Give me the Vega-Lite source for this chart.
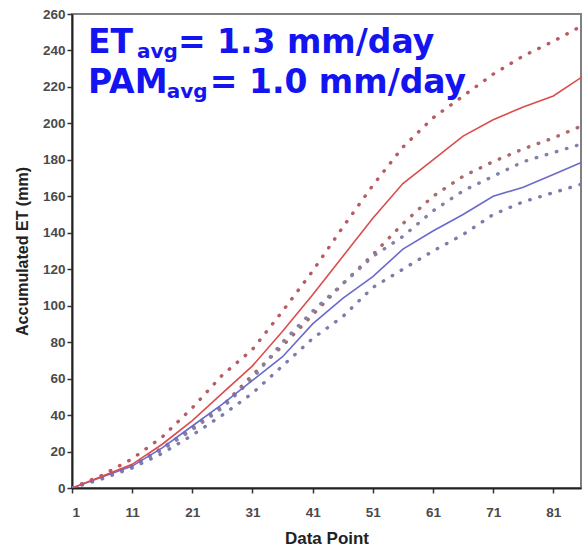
{
  "$schema": "https://vega.github.io/schema/vega-lite/v6.json",
  "autosize": "none",
  "width": 509,
  "height": 474,
  "padding": {"left": 72, "top": 14, "right": 1, "bottom": 60},
  "background": "white",
  "view": {"stroke": "#808080", "strokeWidth": 2},
  "config": {
    "view": {"stroke": "#808080", "strokeWidth": 2},
    "axis": {
      "grid": false,
      "labelFont": "Liberation Sans",
      "labelFontSize": 13.5,
      "labelFontWeight": "bold",
      "labelColor": "#4a4a4a",
      "tickColor": "#333",
      "tickSize": 5,
      "tickWidth": 1.5,
      "domainColor": "#222",
      "domainWidth": 2,
      "titleFont": "Liberation Sans",
      "titleFontWeight": "bold",
      "titleColor": "#222"
    },
    "axisY": {"labelPadding": 2, "titleFontSize": 16, "titlePadding": 12},
    "axisX": {"labelPadding": 12, "titleFontSize": 17, "titlePadding": 12}
  },
  "resolve": {"scale": {"color": "independent", "y": "independent"}, "axis": {"y": "independent"}},
  "data": {
    "values": [
      {"x": 1, "ET": 0, "ET_hi": 0, "ET_lo": 0, "PAM": 0, "PAM_hi": 0, "PAM_lo": 0},
      {"x": 6, "ET": 6.5, "ET_hi": 7, "ET_lo": 6, "PAM": 6, "PAM_hi": 6, "PAM_lo": 5},
      {"x": 11, "ET": 13, "ET_hi": 16, "ET_lo": 12, "PAM": 12, "PAM_hi": 12, "PAM_lo": 11},
      {"x": 16, "ET": 24, "ET_hi": 28, "ET_lo": 22, "PAM": 22, "PAM_hi": 21, "PAM_lo": 19},
      {"x": 21, "ET": 37, "ET_hi": 44, "ET_lo": 33, "PAM": 34, "PAM_hi": 32, "PAM_lo": 29},
      {"x": 26, "ET": 52, "ET_hi": 62, "ET_lo": 45, "PAM": 46, "PAM_hi": 44, "PAM_lo": 40},
      {"x": 31, "ET": 67, "ET_hi": 76, "ET_lo": 62, "PAM": 59, "PAM_hi": 60, "PAM_lo": 52},
      {"x": 36, "ET": 86, "ET_hi": 97, "ET_lo": 78, "PAM": 72, "PAM_hi": 80, "PAM_lo": 67},
      {"x": 41, "ET": 106, "ET_hi": 119, "ET_lo": 95, "PAM": 90, "PAM_hi": 97, "PAM_lo": 82},
      {"x": 46, "ET": 127, "ET_hi": 143, "ET_lo": 112, "PAM": 104, "PAM_hi": 112, "PAM_lo": 94},
      {"x": 51, "ET": 148, "ET_hi": 166, "ET_lo": 128, "PAM": 116, "PAM_hi": 127, "PAM_lo": 110},
      {"x": 56, "ET": 167, "ET_hi": 187, "ET_lo": 145, "PAM": 131, "PAM_hi": 138, "PAM_lo": 120},
      {"x": 61, "ET": 180, "ET_hi": 203, "ET_lo": 160, "PAM": 141, "PAM_hi": 152, "PAM_lo": 130},
      {"x": 66, "ET": 193, "ET_hi": 215, "ET_lo": 171, "PAM": 150, "PAM_hi": 163, "PAM_lo": 139},
      {"x": 71, "ET": 202, "ET_hi": 227, "ET_lo": 179, "PAM": 160, "PAM_hi": 171, "PAM_lo": 150},
      {"x": 76, "ET": 209, "ET_hi": 237, "ET_lo": 186, "PAM": 165, "PAM_hi": 179, "PAM_lo": 157},
      {"x": 81, "ET": 215, "ET_hi": 245, "ET_lo": 192, "PAM": 172, "PAM_hi": 184, "PAM_lo": 162},
      {"x": 86, "ET": 226, "ET_hi": 254, "ET_lo": 199, "PAM": 179, "PAM_hi": 189, "PAM_lo": 167}
    ]
  },
  "layer": [
    {
      "transform": [{"fold": ["ET_hi", "ET_lo", "PAM_hi", "PAM_lo"], "as": ["series", "v"]}],
      "mark": {"type": "line", "clip": true, "strokeCap": "round", "strokeWidth": 3.4, "strokeDash": [0.5, 10]},
      "encoding": {
        "x": {
          "field": "x", "type": "quantitative",
          "scale": {"domain": [1, 85.6], "nice": false, "zero": false},
          "axis": {"values": [1, 11, 21, 31, 41, 51, 61, 71, 81], "labelOverlap": false, "title": "Data Point"}
        },
        "y": {
          "field": "v", "type": "quantitative",
          "scale": {"domain": [0, 260], "nice": false},
          "axis": {"orient": "left", "values": [0, 40, 80, 120, 160, 200, 240], "title": "Accumulated ET (mm)"}
        },
        "color": {
          "field": "series", "type": "nominal", "legend": null,
          "scale": {"domain": ["ET_hi", "ET_lo", "PAM_hi", "PAM_lo"],
                    "range": ["#b85a62", "#a86a6a", "#8282a8", "#7c7cac"]}
        }
      }
    },
    {
      "transform": [{"fold": ["PAM", "ET"], "as": ["series", "v"]}],
      "mark": {"type": "line", "clip": true, "strokeWidth": 1.6},
      "encoding": {
        "x": {"field": "x", "type": "quantitative"},
        "y": {
          "field": "v", "type": "quantitative",
          "scale": {"domain": [0, 260], "nice": false},
          "axis": {"orient": "left", "values": [20, 60, 100, 140, 180, 220, 260], "labelBound": false, "domain": false, "title": null}
        },
        "color": {
          "field": "series", "type": "nominal", "legend": null,
          "scale": {"domain": ["ET", "PAM"], "range": ["#dc4c4c", "#6a6acc"]}
        }
      }
    },
    {
      "data": {"values": [{}]},
      "mark": {"type": "text", "font": "DejaVu Sans", "fontWeight": "bold", "fontSize": 33, "align": "left", "baseline": "alphabetic", "color": "#1414f0"},
      "encoding": {"x": {"datum": 3.65, "type": "quantitative"}, "y": {"datum": 238.4, "type": "quantitative", "scale": {"domain": [0, 260], "nice": false}, "axis": null}, "text": {"value": "ET"}}
    },
    {
      "data": {"values": [{}]},
      "mark": {"type": "text", "font": "DejaVu Sans", "fontWeight": "bold", "fontSize": 20, "align": "left", "baseline": "alphabetic", "color": "#1414f0"},
      "encoding": {"x": {"datum": 11.8, "type": "quantitative"}, "y": {"datum": 236, "type": "quantitative", "scale": {"domain": [0, 260], "nice": false}, "axis": null}, "text": {"value": "avg"}}
    },
    {
      "data": {"values": [{}]},
      "mark": {"type": "text", "font": "DejaVu Sans", "fontWeight": "bold", "fontSize": 33, "align": "left", "baseline": "alphabetic", "color": "#1414f0"},
      "encoding": {"x": {"datum": 18.6, "type": "quantitative"}, "y": {"datum": 238.4, "type": "quantitative", "scale": {"domain": [0, 260], "nice": false}, "axis": null}, "text": {"value": "= 1.3 mm/day"}}
    },
    {
      "data": {"values": [{}]},
      "mark": {"type": "text", "font": "DejaVu Sans", "fontWeight": "bold", "fontSize": 33, "align": "left", "baseline": "alphabetic", "color": "#1414f0"},
      "encoding": {"x": {"datum": 3.65, "type": "quantitative"}, "y": {"datum": 216.8, "type": "quantitative", "scale": {"domain": [0, 260], "nice": false}, "axis": null}, "text": {"value": "PAM"}}
    },
    {
      "data": {"values": [{}]},
      "mark": {"type": "text", "font": "DejaVu Sans", "fontWeight": "bold", "fontSize": 20, "align": "left", "baseline": "alphabetic", "color": "#1414f0"},
      "encoding": {"x": {"datum": 16.75, "type": "quantitative"}, "y": {"datum": 213.9, "type": "quantitative", "scale": {"domain": [0, 260], "nice": false}, "axis": null}, "text": {"value": "avg"}}
    },
    {
      "data": {"values": [{}]},
      "mark": {"type": "text", "font": "DejaVu Sans", "fontWeight": "bold", "fontSize": 33, "align": "left", "baseline": "alphabetic", "color": "#1414f0"},
      "encoding": {"x": {"datum": 23.9, "type": "quantitative"}, "y": {"datum": 216.8, "type": "quantitative", "scale": {"domain": [0, 260], "nice": false}, "axis": null}, "text": {"value": "= 1.0 mm/day"}}
    }
  ]
}
